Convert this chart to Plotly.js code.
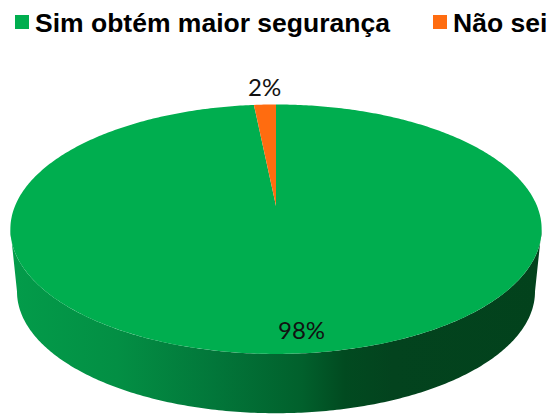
<!DOCTYPE html>
<html><head><meta charset="utf-8">
<script src="https://cdn.plot.ly/plotly-3.0.1.min.js"></script>
<style>html,body{margin:0;padding:0;background:#fff}#c{width:550px;height:414px}</style>
</head><body><div id="c"></div>
<script>
const categories = ["Sim obtém maior segurança", "Não sei"];
const values = [98.4, 1.6];
const colors = ["#00AE4F", "#FF6C10"];

// pie projection (a tilted disc seen in perspective)
const cx = 276, cy = 206, k = -0.186, a = 120.4, b = 261;
function proj(t, s, dy) {           // t: clockwise angle from 12 o'clock
  const u = Math.sin(t), v = -Math.cos(t), d = 1 + k * v;
  return [cx + (s||1) * b * u / d, cy + (dy||0) + (s||1) * a * v / d];
}
function sector(from, to) {
  const xs = [cx], ys = [cy], n = Math.max(4, Math.ceil((to - from) * 80));
  for (let i = 0; i <= n; i++) {
    const p = proj(from + (to - from) * i / n);
    xs.push(p[0]); ys.push(p[1]);
  }
  xs.push(cx); ys.push(cy);
  return {x: xs, y: ys};
}
// side wall: front half of the top rim, from widest point to widest point, then the smaller lower rim
function wall() {
  const xs = [], ys = [], n = 240, lo = Math.PI * 0.559, hi = Math.PI * 1.441;
  for (let i = 0; i <= n; i++) { const p = proj(lo + (hi - lo) * i / n); xs.push(p[0]); ys.push(p[1]); }
  for (let i = n; i >= 0; i--) { const p = proj(lo + (hi - lo) * i / n, 0.975, 63); xs.push(p[0]); ys.push(p[1]); }
  xs.push(xs[0]); ys.push(ys[0]);
  return {x: xs, y: ys};
}

const total = values.reduce((s, v) => s + v, 0);
const traces = [];
const w = wall();
traces.push({type: "scatter", mode: "none", x: w.x, y: w.y, fill: "toself", hoverinfo: "skip", showlegend: false,
  fillgradient: {type: "horizontal", colorscale: [
    [0, "#039C4A"], [0.2, "#038F44"], [0.38, "#02773A"], [0.55, "#01602C"], [0.63, "#014A20"], [0.72, "#03431E"], [1, "#02421C"]]}});
// slices run clockwise and end at 12 o'clock
let start = 0;
values.forEach((v, i) => {
  const t0 = start, t1 = start + v / total * 2 * Math.PI;
  const s = sector(t0, t1);
  traces.push({type: "scatter", mode: "none", x: s.x, y: s.y, fill: "toself", fillcolor: colors[i],
    name: categories[i], hoverinfo: "name", showlegend: false});
  start = t1;
});

const labelPos = [[301, 329], [264, 86]];
const annotations = values.map((v, i) => ({
  x: labelPos[i][0], y: labelPos[i][1], xref: "x", yref: "y", showarrow: false,
  text: Math.round(v) + "%", font: {family: "Lato, Carlito, sans-serif", size: 24, color: "#111"}
}));
const legendX = [[15, 34], [433, 452]];
const shapes = [];
categories.forEach((c, i) => {
  annotations.push({x: legendX[i][1], y: 23, xref: "x", yref: "y", xanchor: "left", yanchor: "middle",
    showarrow: false, text: "<b>" + c + "</b>", borderpad: 0,
    font: {family: "Liberation Sans, Arial, sans-serif", size: 26.5, color: "#000"}});
  shapes.push({type: "rect", xref: "x", yref: "y", x0: legendX[i][0], x1: legendX[i][0] + 14, y0: 15, y1: 29,
    fillcolor: colors[i], line: {width: 0}});
});

Plotly.newPlot("c", traces, {
  width: 550, height: 414, margin: {l: 0, r: 0, t: 0, b: 0},
  paper_bgcolor: "#fff", plot_bgcolor: "#fff", showlegend: false,
  xaxis: {range: [0, 550], visible: false, fixedrange: true},
  yaxis: {range: [414, 0], visible: false, fixedrange: true},
  annotations, shapes
}, {displayModeBar: false, staticPlot: true});
</script></body></html>
